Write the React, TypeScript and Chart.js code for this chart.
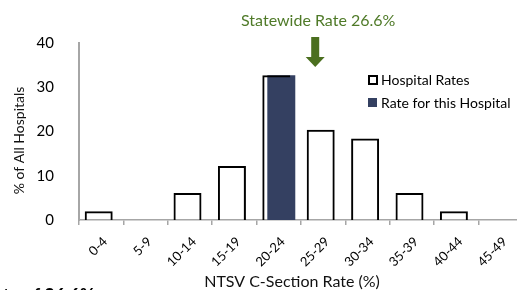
import React, { useEffect, useRef } from "react";
import { Chart, registerables } from "chart.js";

Chart.register(...registerables);

const categories = ["0-4", "5-9", "10-14", "15-19", "20-24", "25-29", "30-34", "35-39", "40-44", "45-49"];
const hospitalRates = [2.0, 0, 6.1, 12.2, 32.7, 20.4, 18.4, 6.1, 2.0, 0];
const thisHospital = [null, null, null, null, 32.7, null, null, null, null, null];
const statewideRate = 26.6;
const binWidth = 5;
const yMax = 40;
const yStep = 10;
const xTitle = "NTSV C-Section Rate (%)";
const yTitle = "% of All Hospitals";

const FONT = "Lato, 'Noto Sans', sans-serif";
const GREEN_TEXT = "#4f7a28";
const GREEN_ARROW = "#4b6f1f";
const NAVY = "#344061";

const annotationPlugin = {
  id: "annotations",
  afterDatasetsDraw(chart: any) {
    const { ctx, scales, chartArea } = chart;
    const x = scales.x;
    const idx = Math.floor(statewideRate / binWidth);
    const w = x.getPixelForValue(1) - x.getPixelForValue(0);
    const px = x.getPixelForValue(idx) + ((statewideRate - idx * binWidth) / binWidth - 0.5) * w;
    const top = chartArea.top;
    ctx.save();
    // arrow
    ctx.fillStyle = GREEN_ARROW;
    ctx.beginPath();
    ctx.moveTo(px - 4, top - 6);
    ctx.lineTo(px + 4, top - 6);
    ctx.lineTo(px + 4, top + 14);
    ctx.lineTo(px + 9.5, top + 14);
    ctx.lineTo(px, top + 24);
    ctx.lineTo(px - 9.5, top + 14);
    ctx.lineTo(px - 4, top + 14);
    ctx.closePath();
    ctx.fill();
    // label
    ctx.fillStyle = GREEN_TEXT;
    ctx.font = `16px ${FONT}`;
    ctx.textAlign = "center";
    ctx.textBaseline = "middle";
    ctx.fillText(`Statewide Rate ${statewideRate}%`, px + 3, top - 22);
    // axis titles
    ctx.fillStyle = "#111";
    ctx.font = `16px ${FONT}`;
    ctx.fillText(xTitle, (chartArea.left + chartArea.right) / 2 - 9, 282);
    ctx.save();
    ctx.translate(19, (chartArea.top + chartArea.bottom) / 2 + 9);
    ctx.rotate(-Math.PI / 2);
    ctx.font = `14px ${FONT}`;
    ctx.fillText(yTitle, 0, 0);
    ctx.restore();
    // legend
    const ds = chart.data.datasets;
    const lx = 368;
    const ly = [80, 103];
    ctx.font = `14px ${FONT}`;
    ctx.textAlign = "left";
    ds.forEach((d: any, i: number) => {
      const cy = ly[i];
      if (i === 0) {
        ctx.fillStyle = "#fff";
        ctx.fillRect(lx + 1, cy - 4, 8, 8);
        ctx.strokeStyle = "#000";
        ctx.lineWidth = 2;
        ctx.strokeRect(lx + 1, cy - 4, 8, 8);
      } else {
        ctx.fillStyle = d.backgroundColor;
        ctx.fillRect(lx, cy - 5, 9, 9);
      }
      ctx.fillStyle = "#000";
      ctx.fillText(d.label, lx + 13, cy);
    });
    ctx.restore();
  },
};

export default function App() {
  const ref = useRef<HTMLCanvasElement>(null);
  useEffect(() => {
    if (!ref.current) return;
    const chart = new Chart(ref.current, {
      type: "bar",
      data: {
        labels: categories,
        datasets: [
          {
            label: "Hospital Rates",
            data: hospitalRates,
            backgroundColor: "rgba(255,255,255,0)",
            borderColor: "#000",
            borderWidth: (c: any) =>
              thisHospital[c.dataIndex] != null ? { top: 2, left: 2, right: 0, bottom: 0 } : 2,
            categoryPercentage: 0.225,
            barPercentage: 5.6,
          },
          {
            label: "Rate for this Hospital",
            data: thisHospital,
            backgroundColor: NAVY,
            borderWidth: 0,
            categoryPercentage: 0.225,
            barPercentage: 5.6,
          },
        ],
      },
      options: {
        responsive: false,
        animation: false,
        devicePixelRatio: 1,
        layout: { padding: { top: 43, right: 22, left: 0, bottom: 0 } },
        plugins: { legend: { display: false }, tooltip: { enabled: false } },
        scales: {
          x: {
            grid: { display: true, drawOnChartArea: false, tickLength: 5, color: "#a6a6a6", lineWidth: 1.5 },
            border: { display: true, color: "#a6a6a6", width: 1.5 },
            ticks: {
              minRotation: 45,
              maxRotation: 45,
              padding: 9,
              labelOffset: 4,
              color: "#000",
              font: { family: FONT, size: 13 },
            },
            afterFit: (s: any) => {
              s.height = 70;
            },
          },
          y: {
            min: 0,
            max: yMax,
            grid: { display: false },
            border: { display: true, color: "#a6a6a6", width: 2 },
            ticks: { stepSize: yStep, padding: 17, color: "#000", font: { family: FONT, size: 15 } },
            afterFit: (s: any) => {
              s.width = 79;
            },
          },
        },
      },
      plugins: [annotationPlugin],
    } as any);
    return () => chart.destroy();
  }, []);
  return (
    <div
      style={{
        position: "fixed",
        left: 0,
        top: 0,
        width: 517,
        height: 290,
        overflow: "hidden",
        background: "#fff",
      }}
    >
      <canvas ref={ref} width={545} height={290} style={{ display: "block" }} />
      <div
        style={{
          position: "absolute",
          left: 3,
          top: 286,
          fontFamily: FONT,
          fontWeight: 700,
          fontSize: 18,
          lineHeight: 1,
          whiteSpace: "nowrap",
          color: "#000",
        }}
      >
        te of 26.6%
      </div>
    </div>
  );
}
